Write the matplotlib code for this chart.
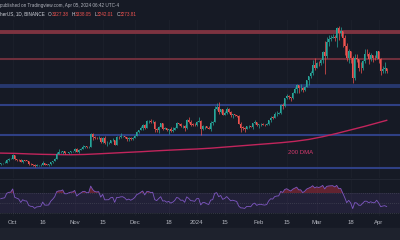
import numpy as np
import matplotlib
matplotlib.use("Agg")
import matplotlib.pyplot as plt
from matplotlib.patches import Rectangle

# ETH/USDT daily, Sep 25 2023 -> Apr 05 2024 (day index 0 = Sep 25)
first_open = 1580
closes = [1588, 1594, 1598, 1653, 1668, 1671,
          1733, 1664, 1656, 1647, 1611, 1646, 1634, 1632, 1580, 1567, 1565, 1539, 1553, 1555, 1558, 1600,
          1566, 1565, 1567, 1605, 1629, 1664, 1766, 1786, 1788, 1812, 1776, 1776, 1795, 1810, 1815,
          1847, 1797, 1830, 1858, 1893, 1899, 1886, 1890, 2120, 2077, 2051, 2045, 2055, 1980, 2058,
          1960, 1961, 1963, 2012, 2022, 1931, 2063, 2062, 2080, 2083, 2063, 2027, 2048, 2029, 2052,
          2088, 2166, 2194, 2243, 2292, 2232, 2358, 2359, 2345, 2353, 2225, 2202, 2260, 2317, 2222, 2229,
          2196, 2217, 2177, 2200, 2239, 2326, 2310, 2268, 2272, 2229, 2378, 2346, 2297, 2292, 2281,
          2352, 2355, 2209, 2268, 2268, 2239, 2221, 2331, 2343, 2584, 2617, 2523, 2576, 2472, 2510, 2587,
          2528, 2467, 2489, 2470, 2454, 2310, 2240, 2236, 2218, 2267, 2268, 2257, 2318, 2344, 2283,
          2304, 2309, 2296, 2290, 2299, 2374, 2426, 2420, 2485, 2500, 2505, 2657, 2641, 2778, 2824,
          2803, 2786, 2880, 2944, 3014, 2967, 2971, 2923, 2989, 3111, 3178, 3245, 3384, 3340,
          3433, 3420, 3486, 3629, 3552, 3817, 3870, 3891, 3906, 3878, 4066, 3982, 4005, 3882, 3736, 3522,
          3644, 3519, 3158, 3516, 3492, 3337, 3329, 3455, 3591, 3588, 3502, 3562, 3511, 3508, 3647,
          3505, 3279, 3311, 3329, 3274]
highs = [1594, 1602, 1634, 1665, 1680, 1680,
         1750, 1746, 1675, 1666, 1659, 1656, 1648, 1642, 1635, 1590, 1575, 1569, 1567, 1562, 1569, 1625,
         1602, 1584, 1571, 1610, 1639, 1680, 1796, 1855, 1819, 1818, 1813, 1785, 1800, 1820, 1820,
         1866, 1866, 1843, 1868, 1916, 1913, 1905, 1910, 2134, 2136, 2096, 2068, 2080, 2076, 2073,
         2090, 2002, 1974, 2020, 2060, 2020, 2084, 2093, 2134, 2094, 2093, 2070, 2070, 2070, 2070,
         2110, 2173, 2200, 2275, 2310, 2310, 2380, 2390, 2400, 2380, 2357, 2240, 2277, 2333, 2323, 2260,
         2235, 2225, 2250, 2259, 2255, 2342, 2330, 2320, 2290, 2287, 2393, 2445, 2390, 2320, 2322,
         2355, 2430, 2385, 2295, 2280, 2271, 2265, 2360, 2365, 2645, 2690, 2717, 2585, 2580, 2545, 2612,
         2595, 2540, 2500, 2491, 2476, 2465, 2346, 2263, 2245, 2280, 2283, 2270, 2322, 2390, 2348,
         2310, 2326, 2330, 2310, 2335, 2388, 2450, 2450, 2525, 2538, 2535, 2665, 2685, 2785, 2865,
         2840, 2810, 2895, 2985, 3034, 3017, 3035, 2985, 3000, 3120, 3195, 3284, 3487, 3522,
         3450, 3455, 3495, 3640, 3822, 3900, 3940, 3935, 3960, 3930, 4086, 4093, 4083, 4010, 3935, 3785,
         3677, 3610, 3548, 3590, 3586, 3504, 3434, 3472, 3675, 3678, 3623, 3615, 3578, 3564, 3653,
         3650, 3511, 3367, 3446, 3338]
lows = [1562, 1578, 1585, 1590, 1636, 1660,
        1664, 1651, 1637, 1633, 1606, 1602, 1628, 1625, 1555, 1556, 1543, 1522, 1535, 1547, 1547, 1555,
        1556, 1556, 1546, 1563, 1600, 1624, 1660, 1754, 1773, 1763, 1760, 1768, 1767, 1780, 1790,
        1796, 1786, 1778, 1826, 1855, 1875, 1862, 1860, 1888, 2016, 2040, 2025, 2025, 1956, 1957,
        1940, 1905, 1940, 1957, 1990, 1930, 1928, 2036, 2050, 2070, 2050, 1995, 1998, 2020, 2020,
        2050, 2080, 2145, 2190, 2205, 2210, 2230, 2325, 2325, 2330, 2155, 2165, 2150, 2250, 2200, 2215,
        2182, 2120, 2170, 2170, 2190, 2235, 2287, 2250, 2240, 2185, 2220, 2330, 2280, 2270, 2265,
        2265, 2340, 2110, 2205, 2220, 2228, 2212, 2175, 2290, 2340, 2555, 2487, 2508, 2465, 2465, 2500,
        2508, 2440, 2410, 2455, 2445, 2304, 2165, 2197, 2170, 2208, 2240, 2244, 2220, 2305, 2270,
        2239, 2280, 2287, 2265, 2285, 2290, 2353, 2400, 2412, 2462, 2488, 2485, 2575, 2610, 2765,
        2764, 2720, 2770, 2875, 2880, 2880, 2915, 2885, 2910, 2990, 3030, 3145, 3200, 3305,
        3338, 3378, 3392, 3424, 3220, 3520, 3740, 3824, 3878, 3835, 3720, 3850, 3920, 3720, 3566, 3460,
        3423, 3423, 3057, 3113, 3452, 3275, 3246, 3288, 3427, 3552, 3410, 3467, 3448, 3484, 3500,
        3433, 3212, 3250, 3235, 3242]
# closes Sep 11 - Sep 24, only used to warm up the RSI
warmup = [1550, 1593, 1608, 1626, 1642, 1636, 1623, 1637, 1646, 1622, 1586, 1594, 1592, 1580]

# 200 day SMA, one value per week
dma_days = [0, 7, 14, 21, 28, 35, 42, 49, 56, 63, 70, 77, 84, 91, 98, 105, 112, 119, 126,
            133, 140, 147, 154, 161, 168, 175, 182, 189, 193]
dma_vals = [1775, 1770, 1760, 1752, 1748, 1745, 1750, 1762, 1775, 1788, 1800, 1815, 1828, 1840,
            1850, 1865, 1885, 1905, 1925, 1945, 1965, 1990, 2025, 2075, 2135, 2200, 2265, 2335, 2375]

# support / resistance levels
red_levels = [4000, 3500]
blue_levels = [3000, 2650, 2100, 1500]

tick_days = [6, 21, 37, 51, 67, 84, 98, 112, 129, 143, 158, 175, 189]
tick_labels = ['Oct', '16', 'Nov', '15', 'Dec', '18', '2024', '15', 'Feb', '15', 'Mar', '18', 'Apr']

bg = '#161a25'
up_col = '#26a69a'
down_col = '#ef5350'
plt.rcParams['font.family'] = ['Liberation Sans', 'DejaVu Sans']

W, H = 400, 240
fig = plt.figure(figsize=(4, 2.4), dpi=100, facecolor=bg)

def pane(top, bottom):
    a = fig.add_axes([0, 1 - bottom / H, 1, (bottom - top) / H])
    a.set_facecolor(bg)
    for s in a.spines.values():
        s.set_visible(False)
    a.set_xlim(-0.35, 199.65)
    return a

# bottom toolbar strip
fig.patches.append(Rectangle((0, 0), 1, 12 / H, transform=fig.transFigure, color='#1e222d', zorder=0))

# ---- price pane
ax = pane(20, 178)
ax.set_ylim(1319, 4212)
ax.set_xticks([])
ax.set_yticks([])
for d in tick_days:
    ax.axvline(d, color='#1d212c', lw=0.6, zorder=0)

ax.axhline(red_levels[0], color='#7d3340', lw=2.8, zorder=1)
ax.axhline(red_levels[1], color='#6e2f3c', lw=1.5, zorder=1)
ax.axhline(blue_levels[0], color='#27386e', lw=2.8, zorder=1)
for lv in blue_levels[1:]:
    ax.axhline(lv, color='#2f4085', lw=1.5, zorder=1)

n = len(closes)
opens = [first_open] + closes[:-1]
x = np.arange(n)
for i in range(n):
    o, c = opens[i], closes[i]
    col = up_col if c >= o else down_col
    hi = max(highs[i], o, c)
    lo = min(lows[i], o, c)
    ax.vlines(i, lo, hi, color=col, lw=0.5, zorder=3)
    ax.bar(i, max(abs(c - o), 8), bottom=min(o, c), width=0.72, color=col, lw=0, zorder=3)

ax.plot(dma_days, dma_vals, color='#c2255c', lw=1.0, zorder=2)
ax.text(150, 1795, '200 DMA', color='#d63a6e', fontsize=4.3, ha='center', va='center')

# ---- RSI pane
rax = pane(179, 216)
rax.set_ylim(24, 98)
allc = np.array(warmup + closes, dtype=float)
diff = np.diff(allc)
gain = np.clip(diff, 0, None)
loss = np.clip(-diff, 0, None)
ag = gain[:14].mean()
al = loss[:14].mean()
rsi = [100 - 100 / (1 + ag / al)]
for g, l in zip(gain[14:], loss[14:]):
    ag = (ag * 13 + g) / 14
    al = (al * 13 + l) / 14
    rsi.append(100 - 100 / (1 + ag / al))
rsi = np.array(rsi)

for d in tick_days:
    rax.axvline(d, color='#1d212c', lw=0.6, zorder=0)
rax.axhspan(30, 70, color='#7e57c2', alpha=0.12, lw=0)
for lv in [70, 50, 30]:
    rax.axhline(lv, color='#5d606b', lw=0.5, ls=(0, (1, 2)), alpha=0.8)
rax.fill_between(x, rsi, 70, where=rsi > 70, color='#f23645', alpha=0.35, lw=0, interpolate=True)
rax.plot(x, rsi, color='#7e57c2', lw=0.6)
rax.set_yticks([])
rax.set_xticks(tick_days)
rax.set_xticklabels(tick_labels)
rax.tick_params(axis='x', length=0, pad=3.2, labelsize=4.3, labelcolor='#b2b5be')

# pane separator
fig.add_artist(plt.Line2D([0, 1], [1 - 178.5 / H] * 2, color='#232733', lw=0.7))

# ---- header
fs = 3.3
fig.text(0.5 / W, 1 - 5 / H, 'published on Tradingview.com, Apr 05, 2024 06:42 UTC-4',
         color='#b2b5be', fontsize=fs, va='center')
prev = fig.text(0.5 / W, 1 - 14 / H, 'herUS, 1D, BINANCE', color='#d1d4dc', fontsize=fs, va='center')
ohlc = [('O', '3327.38'), ('H', '3338.05'), ('L', '3242.01'), ('C', '3273.81')]
for k, v in ohlc:
    # chain each piece after the previous one so they never overlap
    prev = fig.add_artist(plt.Annotation(k, xy=(1, 0.5), xycoords=prev, xytext=(1.8, 0),
                                         textcoords='offset points', va='center',
                                         color='#d1d4dc', fontsize=fs))
    prev = fig.add_artist(plt.Annotation(v, xy=(1, 0.5), xycoords=prev, xytext=(0.2, 0),
                                         textcoords='offset points', va='center',
                                         color='#ef5350', fontsize=fs))

fig.savefig('out.png', dpi=100, facecolor=bg)
